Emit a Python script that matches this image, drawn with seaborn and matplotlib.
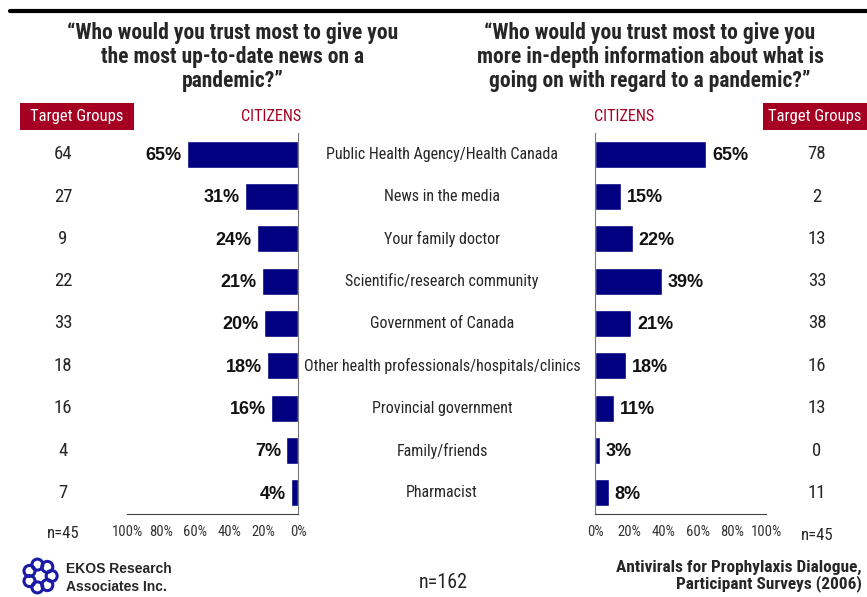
import numpy as np
import pandas as pd
import seaborn as sns
import matplotlib.pyplot as plt
import matplotlib.transforms as mtransforms
from matplotlib.patches import Circle, Rectangle

sns.set_style("white")
plt.rcParams['font.family'] = ['Roboto Condensed', 'Liberation Sans Narrow', 'Liberation Sans',
                               'DejaVu Sans']

# data
categories = ["Public Health Agency/Health Canada", "News in the media", "Your family doctor",
              "Scientific/research community", "Government of Canada",
              "Other health professionals/hospitals/clinics", "Provincial government",
              "Family/friends", "Pharmacist"]
left_pct = [65, 31, 24, 21, 20, 18, 16, 7, 4]
right_pct = [65, 15, 22, 39, 21, 18, 11, 3, 8]
left_groups = [64, 27, 9, 22, 33, 18, 16, 4, 7]
right_groups = [78, 2, 13, 33, 38, 16, 13, 0, 11]
ticks = [0, 20, 40, 60, 80, 100]

df = pd.DataFrame({"cat": categories, "left": left_pct, "right": right_pct})

navy = "#000080"
red = "#A50021"
wide = ['Liberation Sans', 'DejaVu Sans']

fig = plt.figure(figsize=(8.67, 5.97), dpi=100)
ax1 = fig.add_axes([127 / 867, 1 - 514 / 597, 171 / 867, 381 / 597])
ax2 = fig.add_axes([595 / 867, 1 - 514 / 597, 171 / 867, 381 / 597])

sns.barplot(data=df, x="left", y="cat", orient="h", color=navy, width=0.64,
            saturation=1, ax=ax1)
sns.barplot(data=df, x="right", y="cat", orient="h", color=navy, width=0.64,
            saturation=1, ax=ax2)

for ax, side in [(ax1, "left"), (ax2, "right")]:
    ax.set_xlim((100, 0) if side == "left" else (0, 100))
    ax.set_ylim(8.5, -0.5)
    ax.set_xlabel("")
    ax.set_ylabel("")
    ax.set_yticks([])
    ax.set_xticks(ticks)
    ax.set_xticklabels([f"{t}%" for t in ticks], fontsize=10.5, color="#333333")
    ax.tick_params(axis="x", direction="out", length=4, width=0.8, color="#444444", pad=4)
    for s in ax.spines.values():
        s.set_visible(False)
    ax.spines["bottom"].set_visible(True)
    ax.spines["bottom"].set_color("#444444")
    vs = "right" if side == "left" else "left"
    ax.spines[vs].set_visible(True)
    ax.spines[vs].set_color("#777777")
    ax.patch.set_alpha(0)

for i, v in enumerate(left_pct):
    ax1.text(v + 3, i + 0.03, f"{v}%", ha="right", va="center", fontsize=13,
             fontweight="bold", family=wide, color="#111111")
for i, v in enumerate(right_pct):
    ax2.text(v + 3.5, i + 0.03, f"{v}%", ha="left", va="center", fontsize=13,
             fontweight="bold", family=wide, color="#111111")

tr = mtransforms.blended_transform_factory(fig.transFigure, ax1.transData)
for i, c in enumerate(categories):
    fig.text(442 / 867, i, c, transform=tr, ha="center", va="center", fontsize=11.5)
    fig.text(63 / 867, i, str(left_groups[i]), transform=tr, ha="center", va="center", fontsize=13.5)
    fig.text(817 / 867, i, str(right_groups[i]), transform=tr, ha="center", va="center", fontsize=13.5)

# top rule
fig.add_artist(plt.Line2D([10 / 867, 1], [1 - 11 / 597] * 2, color="black", lw=3))

# titles
fig.text(233 / 867, 1 - 57 / 597, "\u201cWho would you trust most to give you\nthe most up-to-date news on a\npandemic?\u201d",
         ha="center", va="center", fontsize=15.5, fontweight="bold", linespacing=1.1)
fig.text(650 / 867, 1 - 57 / 597, "\u201cWho would you trust most to give you\nmore in-depth information about what is\ngoing on with regard to a pandemic?\u201d",
         ha="center", va="center", fontsize=15.5, fontweight="bold", linespacing=1.1)

# target group boxes and CITIZENS labels
for x0, x1 in [(20, 134), (763, 867)]:
    fig.add_artist(Rectangle((x0 / 867, 1 - 130 / 597), (x1 - x0) / 867, 27 / 597,
                             transform=fig.transFigure, color=red, lw=0))
    fig.text((x0 + x1) / 2 / 867, 1 - 116.5 / 597, "Target Groups", ha="center", va="center",
             fontsize=12, color="white")
fig.text(271 / 867, 1 - 116.5 / 597, "CITIZENS", ha="center", va="center", fontsize=11.7,
         color=red)
fig.text(624 / 867, 1 - 116.5 / 597, "CITIZENS", ha="center", va="center", fontsize=11.7,
         color=red)

fig.text(63 / 867, 1 - 534 / 597, "n=45", ha="center", va="center", fontsize=12)
fig.text(817 / 867, 1 - 535 / 597, "n=45", ha="center", va="center", fontsize=12)
fig.text(443 / 867, 1 - 583 / 597, "n=162", ha="center", va="center", fontsize=14.5)

fig.text(66 / 867, 1 - 578 / 597, "EKOS Research\nAssociates Inc.", ha="left", va="center",
         fontsize=10, fontweight="bold", family=wide, linespacing=1.3)
fig.text(862 / 867, 1 - 576 / 597, "Antivirals for Prophylaxis Dialogue,\nParticipant Surveys (2006)",
         ha="right", va="center", fontsize=12.4, fontweight="bold", linespacing=1.05)

# logo
lax = fig.add_axes([20 / 867, 1 - 596 / 597, 40 / 867, 40 / 597])
lax.set_xlim(-1.2, 1.2)
lax.set_ylim(-1.2, 1.2)
lax.set_aspect("equal")
lax.axis("off")
for k in range(7):
    a = 2 * np.pi * k / 7
    lax.add_patch(Circle((0.7 * np.cos(a), 0.7 * np.sin(a)), 0.33, fill=False, ec="#1a1aa6", lw=2.2))

fig.savefig("out.png", dpi=100)
